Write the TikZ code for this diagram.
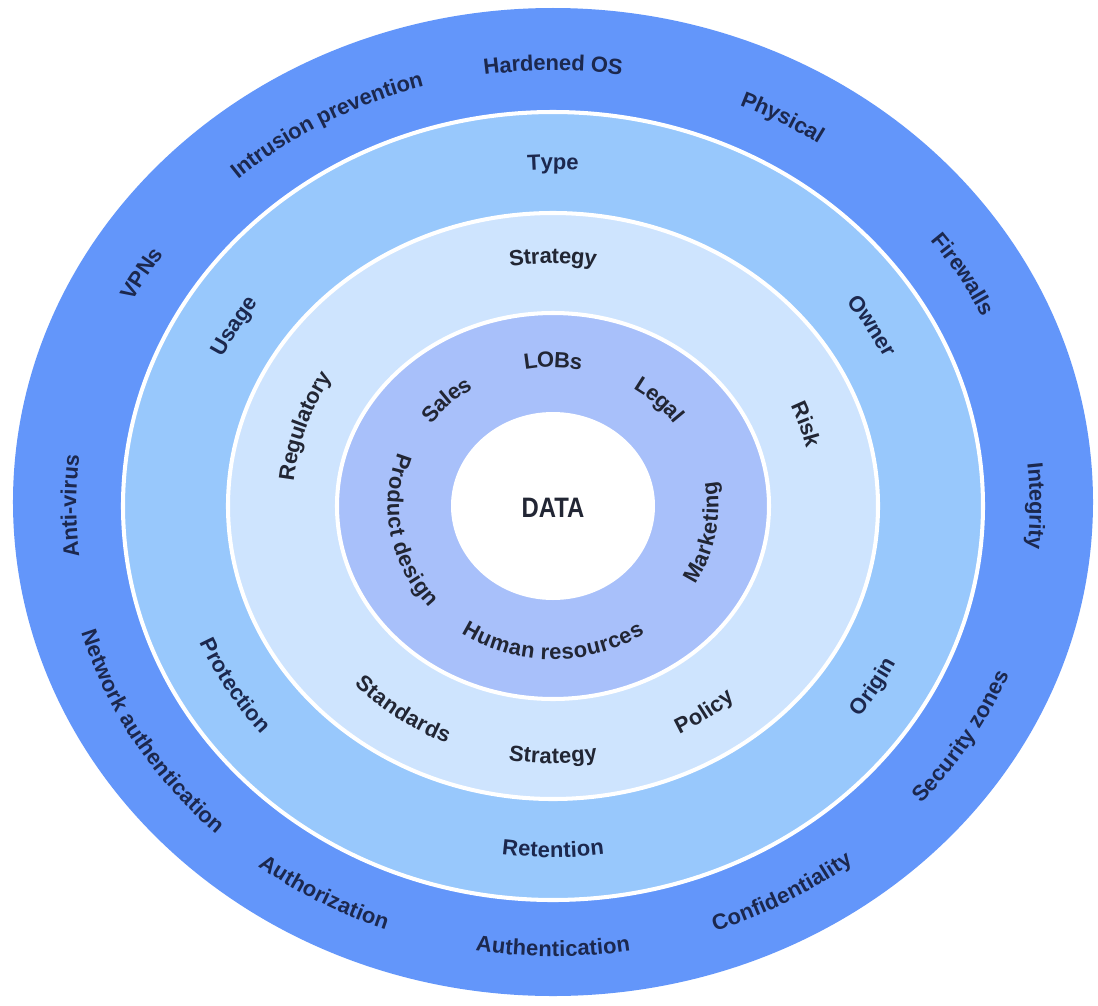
\documentclass[tikz,border=0pt]{standalone}
\usepackage{fontspec}
\setsansfont{Liberation Sans}
\newfontfamily\datafont[FakeStretch=0.85]{Liberation Sans}
\usetikzlibrary{decorations.text}
\definecolor{ringout}{RGB}{99,150,250}
\definecolor{ringmid}{RGB}{152,200,252}
\definecolor{ringpale}{RGB}{206,228,254}
\definecolor{ringlob}{RGB}{168,192,250}
\definecolor{navytext}{RGB}{28,40,78}
\definecolor{inktext}{RGB}{34,38,52}
\def\lblfont{\sffamily\bfseries\fontsize{12.5}{14}\selectfont}
% #1,#2 radii, #3 angle of the text centre, #4 half span of the arc, #5 colour, #6 text
\newcommand\cwlabel[6]{\path[decorate,decoration={text along path,text align=center,raise=-4.2pt,text color=#5,text={|\lblfont|#6}}]
    ({#3+#4}:#1 and #2) arc[start angle={#3+#4},end angle={#3-#4},x radius=#1,y radius=#2];}
\newcommand\ccwlabel[6]{\path[decorate,decoration={text along path,text align=center,raise=-4.2pt,text color=#5,text={|\lblfont|#6}}]
    ({#3-#4}:#1 and #2) arc[start angle={#3-#4},end angle={#3+#4},x radius=#1,y radius=#2];}

\begin{document}
\begin{tikzpicture}[x=0.02cm,y=0.02cm,
    ring/.style={draw=white,line width=2.3pt}]
    \fill[white] (-553,-499) rectangle (545,506);
    \useasboundingbox (-553,-499) rectangle (545,506);
    \fill[ringout] (0,4) ellipse[x radius=540,y radius=494];
    \filldraw[ring,fill=ringmid] (0,0) ellipse[x radius=430,y radius=394];
    \filldraw[ring,fill=ringpale] (0,0) ellipse[x radius=325,y radius=293];
    \filldraw[ring,fill=ringlob] (0,0) ellipse[x radius=216,y radius=193];
    \fill[white] (0,0) ellipse[x radius=102,y radius=94];
    \node[font=\datafont\bfseries\fontsize{16}{18}\selectfont,text=inktext] (core) at (0,-2) {DATA};

    \begin{scope}% outer ring
        \cwlabel{484}{443}{90}{60}{navytext}{Hardened OS}
        \cwlabel{484}{443}{60}{60}{navytext}{Physical}
        \cwlabel{484}{443}{30}{60}{navytext}{Firewalls}
        \cwlabel{484}{443}{0}{60}{navytext}{Integrity}
        \ccwlabel{484}{443}{330}{60}{navytext}{Security zones}
        \ccwlabel{484}{443}{300}{60}{navytext}{Confidentiality}
        \ccwlabel{484}{443}{270}{60}{navytext}{Authentication}
        \ccwlabel{484}{443}{240}{60}{navytext}{Authorization}
        \ccwlabel{484}{443}{210}{60}{navytext}{Network authentication}
        \cwlabel{484}{443}{180}{60}{navytext}{Anti-virus}
        \cwlabel{484}{443}{150}{60}{navytext}{VPNs}
        \cwlabel{484}{443}{120}{60}{navytext}{Intrusion prevention}
    \end{scope}
    \begin{scope}% second ring
        \cwlabel{376}{344}{90}{60}{navytext}{Type}
        \cwlabel{376}{344}{30}{60}{navytext}{Owner}
        \ccwlabel{376}{344}{330}{60}{navytext}{Origin}
        \ccwlabel{376}{344}{270}{60}{navytext}{Retention}
        \ccwlabel{376}{344}{210}{60}{navytext}{Protection}
        \cwlabel{376}{344}{150}{60}{navytext}{Usage}
    \end{scope}
    \begin{scope}% third ring
        \cwlabel{268}{250}{90}{70}{inktext}{Strategy}
        \cwlabel{268}{250}{18}{70}{inktext}{Risk}
        \ccwlabel{268}{250}{306}{70}{inktext}{Policy}
        \ccwlabel{268}{250}{270}{70}{inktext}{Strategy}
        \ccwlabel{268}{250}{234}{70}{inktext}{Standards}
        \cwlabel{268}{250}{162}{70}{inktext}{Regulatory}
    \end{scope}
    \begin{scope}% line-of-business ring
        \cwlabel{158}{146}{90}{80}{inktext}{LOBs}
        \cwlabel{158}{146}{45}{80}{inktext}{Legal}
        \ccwlabel{158}{146}{350}{80}{inktext}{Marketing}
        \ccwlabel{158}{146}{270}{80}{inktext}{Human resources}
        \ccwlabel{158}{146}{190}{80}{inktext}{Product design}
        \cwlabel{158}{146}{135}{80}{inktext}{Sales}
    \end{scope}
\end{tikzpicture}
\end{document}
